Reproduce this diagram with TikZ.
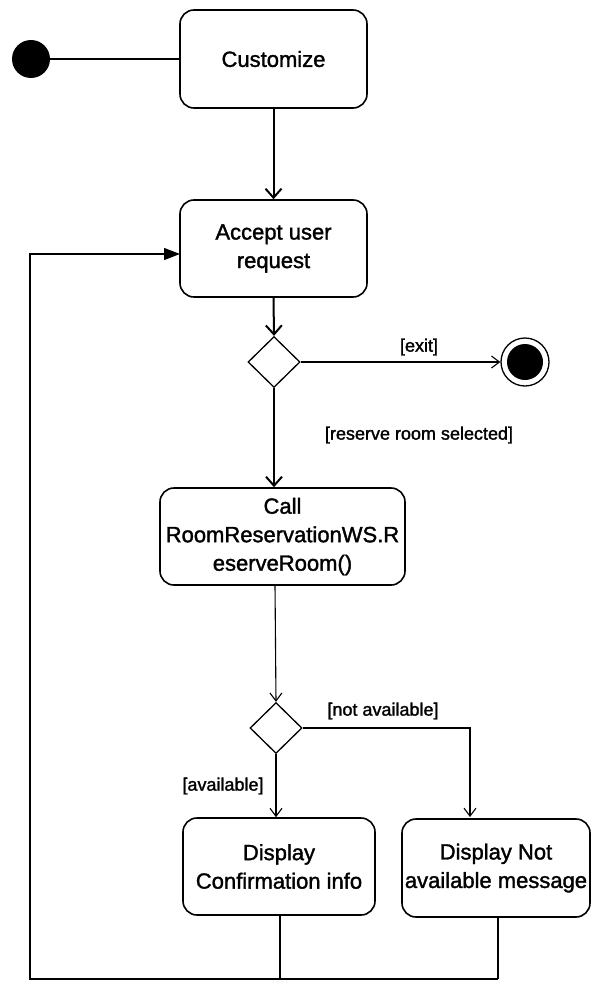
\documentclass[tikz,border=0pt]{standalone}
\usepackage{fontspec}
\setmainfont{Liberation Sans}[FakeBold=1.5]
\usetikzlibrary{arrows.meta,shapes.geometric}
\begin{document}
\begin{tikzpicture}[x=1pt,y=-1pt,
  act/.style={draw,rounded corners=14pt,line width=1.6pt,align=center,font=\fontsize{22}{28.5}\selectfont,inner sep=0pt},
  dec/.style={draw,diamond,line width=1.3pt,minimum width=52pt,minimum height=51pt,inner sep=0pt},
  lbl/.style={font=\fontsize{18}{22}\selectfont,inner sep=0pt},
  mainflow/.style={line width=2pt,-{Straight Barb[length=9pt,width=16pt,line width=2pt]}},
  thinflow/.style={line width=1.1pt,-{Straight Barb[length=8pt,width=12pt,line width=1.1pt]}},
  plain/.style={line width=1.1pt},
  loopflow/.style={line width=1.2pt,-{Triangle[length=16pt,width=12pt]}},
]
\useasboundingbox (0,0) rectangle (592,985);
% nodes
\node[fill,circle,minimum size=38pt,inner sep=0pt] (start) at (31,59) {};
\node[act,minimum width=187pt,minimum height=98pt] (cust) at (273.5,59) {Customize};
\node[act,minimum width=187pt,minimum height=97pt] (acc) at (273.5,248.5) {Accept user\\request};
\node[dec] (d1) at (274,362) {};
\node[draw,circle,line width=1.3pt,minimum size=48pt,inner sep=0pt] (fin) at (525,362) {};
\fill (fin.center) circle (18pt);
\node[act,minimum width=245pt,minimum height=97pt] (call) at (282.5,536.5) {Call\\RoomReservationWS.R\\eserveRoom()};
\node[dec] (d2) at (276,728) {};
\node[act,minimum width=192pt,minimum height=97pt] (conf) at (279,866.5) {Display\\Confirmation info};
\node[act,minimum width=188pt,minimum height=98pt] (notav) at (496,868) {Display Not\\available message};
% labels
\node[lbl] (lexit) at (419,347) {[exit]};
\node[lbl] (lres) at (419,435) {[reserve room selected]};
\node[lbl] (lnot) at (383,711) {[not available]};
\node[lbl] (lav) at (223,786) {[available]};
% coordinates
\coordinate (loopbot) at (30,979);
\coordinate (loopin) at (180,254);
\coordinate (callout) at (275,585);
\coordinate (confout) at (280,915);
\coordinate (notout) at (498,917);
\coordinate (notin) at (470,817);
% connectors
\draw[plain] (start) -- (cust.west);
\draw[mainflow] (cust.south) -- (acc.north);
\draw[mainflow] (acc.south) -- (d1.north);
\draw[thinflow] (d1.east) -- (fin.west);
\draw[mainflow] (d1.south) -- (d1.south |- call.north);
\draw[thinflow] (callout) -- (d2.north);
\draw[thinflow] (d2.south) -- (d2.south |- conf.north);
\draw[thinflow] (d2.east) -| (notin);
\draw[plain] (notout) -- (notout |- loopbot);
\draw[loopflow] (confout) -- (confout |- loopbot) -- (loopbot) |- (loopin);
\draw[plain] (confout |- loopbot) -- (notout |- loopbot);
\end{tikzpicture}
\end{document}
